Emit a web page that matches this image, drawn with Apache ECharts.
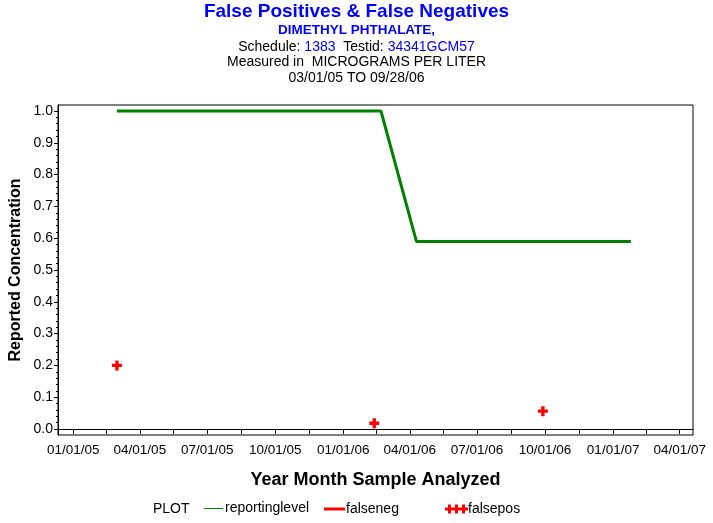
<!DOCTYPE html>
<html><head><meta charset="utf-8">
<script src="https://cdn.jsdelivr.net/npm/echarts@6/dist/echarts.min.js"></script>
<style>html,body{margin:0;padding:0;background:#fff}#c{width:713px;height:523px}</style>
</head><body><div id="c"></div>
<script>
// ---- data ----
const reportingDates = ['2005-03-01', '2006-02-21', '2006-04-10', '2007-01-25'];
const reportingLevel = [1.0, 1.0, 0.59, 0.59];
const falsePosDates = ['2005-03-01', '2006-02-12', '2006-09-28'];
const falsePosValues = [0.2, 0.018, 0.056];
const falseNegDates = [];
const falseNegValues = [];
const xTickLabels = ['01/01/05', '04/01/05', '07/01/05', '10/01/05', '01/01/06', '04/01/06', '07/01/06', '10/01/06', '01/01/07', '04/01/07'];
const yTickLabels = ['0.0', '0.1', '0.2', '0.3', '0.4', '0.5', '0.6', '0.7', '0.8', '0.9', '1.0'];

// ---- helpers ----
const DAY = 86400000;
function parseISO(s) { const p = s.split('-').map(Number); return Date.UTC(p[0], p[1] - 1, p[2]); }
function parseMDY(s) { const p = s.split('/').map(Number); return Date.UTC(2000 + p[2], p[0] - 1, p[1]); }
const xTickVals = xTickLabels.map(parseMDY);
const xLabelMap = {};
xTickLabels.forEach((l, i) => { xLabelMap[xTickVals[i]] = l; });
const xAllTicks = [];
for (let i = 0; i < xTickVals.length; i++) {
  xAllTicks.push(xTickVals[i]);
  if (i < xTickVals.length - 1) xAllTicks.push((xTickVals[i] + xTickVals[i + 1]) / 2);
}
const yTickVals = yTickLabels.map(Number);
const yMinor = [];
for (let i = 0; i < yTickVals.length - 1; i++) {
  for (let k = 1; k < 5; k++) yMinor.push(+(yTickVals[i] + (yTickVals[i + 1] - yTickVals[i]) * k / 5).toFixed(4));
}
const xMin = xTickVals[0] - 20.7 * DAY;
const xMax = xTickVals[xTickVals.length - 1] + 18 * DAY;
const yMin = -0.0189, yMax = 1.0189;

const FONT = "'Liberation Sans', Arial, sans-serif";
const BLUE = '#0000ff';

const chart = echarts.init(document.getElementById('c'), null, { renderer: 'canvas' });
chart.setOption({
  backgroundColor: '#ffffff',
  animation: false,
  textStyle: { fontFamily: FONT },
  title: [
    { text: 'False Positives & False Negatives', left: 'center', top: 1, padding: 0,
      textStyle: { fontFamily: FONT, fontSize: 19, fontWeight: 'bold', color: BLUE, lineHeight: 22 } },
    { text: 'DIMETHYL PHTHALATE,', left: 'center', top: 22, padding: 0,
      textStyle: { fontFamily: FONT, fontSize: 13.5, fontWeight: 'bold', color: BLUE, lineHeight: 16 } },
    { text: '{k|Schedule: }{b|1383}{k|  Testid: }{b|34341GCM57}', left: 'center', top: 39, padding: 0,
      textStyle: { fontFamily: FONT, fontSize: 14, fontWeight: 'normal', lineHeight: 16,
        rich: { k: { fontFamily: FONT, fontSize: 14, fontWeight: 'normal', color: '#000' },
                b: { fontFamily: FONT, fontSize: 14, fontWeight: 'normal', color: BLUE } } } },
    { text: 'Measured in  MICROGRAMS PER LITER', left: 'center', top: 54, padding: 0,
      textStyle: { fontFamily: FONT, fontSize: 14, fontWeight: 'normal', color: '#000', lineHeight: 16 } },
    { text: '03/01/05 TO 09/28/06', left: 'center', top: 70, padding: 0,
      textStyle: { fontFamily: FONT, fontSize: 14, fontWeight: 'normal', color: '#000', lineHeight: 16 } }
  ],
  grid: { left: 58, right: 20, top: 105, bottom: 88, show: true, borderColor: '#000', borderWidth: 1,
    backgroundColor: 'transparent', containLabel: false, outerBoundsMode: 'none' },
  xAxis: {
    type: 'value', min: xMin, max: xMax,
    name: 'Year Month Sample Analyzed', nameLocation: 'middle', nameGap: 36, nameMoveOverlap: false,
    nameTextStyle: { fontFamily: FONT, fontSize: 18, fontWeight: 'bold', color: '#000' },
    axisLine: { show: true, lineStyle: { color: '#000', width: 1 } },
    axisTick: { show: true, length: 5, customValues: xAllTicks, lineStyle: { color: '#000' } },
    axisLabel: { show: true, customValues: xTickVals, margin: 8, fontFamily: FONT, fontSize: 13.5, color: '#000',
      formatter: v => xLabelMap[v] || '' },
    splitLine: { show: false }
  },
  yAxis: [
    {
      type: 'value', min: yMin, max: yMax,
      name: 'Reported Concentration', nameLocation: 'middle', nameGap: 42, nameRotate: 90, nameMoveOverlap: false,
      nameTextStyle: { fontFamily: FONT, fontSize: 16, fontWeight: 'bold', color: '#000', verticalAlign: 'middle' },
      axisLine: { show: true, lineStyle: { color: '#000', width: 1 } },
      axisTick: { show: true, length: 4, customValues: yTickVals, lineStyle: { color: '#000' } },
      axisLabel: { show: true, customValues: yTickVals, margin: 5, fontFamily: FONT, fontSize: 14, color: '#000',
        formatter: v => v.toFixed(1) },
      splitLine: { show: false }
    },
    {
      type: 'value', min: yMin, max: yMax, position: 'left',
      axisLine: { show: false },
      axisTick: { show: true, length: 2, customValues: yMinor, lineStyle: { color: '#000' } },
      axisLabel: { show: false },
      splitLine: { show: false }
    }
  ],
  legend: [
    { data: [{ name: 'reportinglevel', icon: 'rect', itemStyle: { opacity: 1 } }], left: 204, top: 501.5, padding: 0,
      itemWidth: 19, itemHeight: 1, textStyle: { fontFamily: FONT, fontSize: 14, color: '#000', padding: [0, 0, 0, -3] } },
    { data: [{ name: 'falseneg', icon: 'rect' }], left: 324, top: 502, padding: 0,
      itemWidth: 21, itemHeight: 3, textStyle: { fontFamily: FONT, fontSize: 14, color: '#000', padding: [0, 0, 0, -4] } },
    { data: [{ name: 'falsepos', icon: 'path://M0,3h23v3h-23z M3,0h3v9h-3z M10,0h3v9h-3z M17,0h3v9h-3z', itemStyle: { opacity: 1 } }],
      left: 445, top: 502, padding: 0,
      itemWidth: 23, itemHeight: 9, textStyle: { fontFamily: FONT, fontSize: 14, color: '#000', padding: [0, 0, 0, -5] } }
  ],
  graphic: [
    { type: 'text', left: 153, top: 502, style: { text: 'PLOT', font: '14px ' + FONT, fill: '#000' } }
  ],
  series: [
    { name: 'reportinglevel', type: 'line', xAxisIndex: 0, yAxisIndex: 0, showSymbol: false, symbol: 'none',
      color: '#008000', lineStyle: { color: '#008000', width: 3 },
      data: reportingDates.map((d, i) => [parseISO(d), reportingLevel[i]]) },
    { name: 'falseneg', type: 'line', showSymbol: false, color: '#ff0000', lineStyle: { color: '#ff0000', width: 2 },
      data: falseNegDates.map((d, i) => [parseISO(d), falseNegValues[i]]) },
    { name: 'falsepos', type: 'scatter', color: '#ff0000',
      symbol: 'path://M3,0h3v3h3v3h-3v3h-3v-3h-3v-3h3z', symbolSize: 10,
      itemStyle: { color: '#ff0000', opacity: 1 },
      data: falsePosDates.map((d, i) => [parseISO(d), falsePosValues[i]]) }
  ]
});
</script>
</body></html>
